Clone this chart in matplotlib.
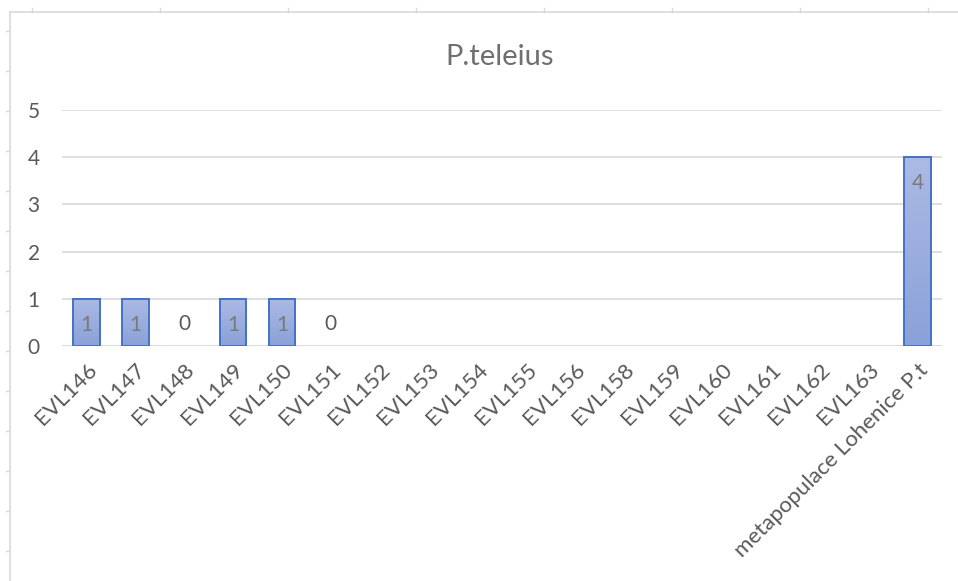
import numpy as np
import matplotlib.pyplot as plt
from matplotlib.lines import Line2D
from matplotlib.colors import LinearSegmentedColormap

categories = ['EVL146', 'EVL147', 'EVL148', 'EVL149', 'EVL150', 'EVL151', 'EVL152',
              'EVL153', 'EVL154', 'EVL155', 'EVL156', 'EVL158', 'EVL159', 'EVL160',
              'EVL161', 'EVL162', 'EVL163', 'metapopulace Lohenice P.t']
values = [1, 1, 0, 1, 1, 0, None, None, None, None, None, None, None, None,
          None, None, None, 4]
yticks = [0, 1, 2, 3, 4, 5]

plt.rcParams['font.family'] = ['Lato', 'DejaVu Sans']
txt_col = '#595959'

fig = plt.figure(figsize=(9.58, 5.81), dpi=100)
ax = fig.add_axes([62 / 958, 1 - 346 / 581, 880 / 958, 236 / 581])

# faint spreadsheet border around the chart
fig.add_artist(Line2D([10 / 958, 10 / 958], [0, 1 - 12 / 581], color='#d9d9d9', lw=1.2))
fig.add_artist(Line2D([10 / 958, 1], [1 - 12 / 581, 1 - 12 / 581], color='#d9d9d9', lw=1.2))
for yy in range(31, 581, 40):
    fig.add_artist(Line2D([6 / 958, 10 / 958], [1 - yy / 581] * 2, color='#d9d9d9', lw=1))
for xx in range(32, 958, 128):
    fig.add_artist(Line2D([xx / 958] * 2, [1 - 12 / 581, 1 - 8 / 581], color='#d9d9d9', lw=1))

x = np.arange(len(categories))
w = 0.54
grad = np.linspace(0, 1, 100).reshape(-1, 1)
cmap = LinearSegmentedColormap.from_list('g', ['#8aa1d9', '#abbae4'])
for xi, v in zip(x, values):
    if v is None:
        continue
    if v > 0:
        bar = ax.bar(xi, v, width=w, color='none', edgecolor='#4472c4', lw=1.4, zorder=3)[0]
        im = ax.imshow(grad, extent=(xi - w / 2, xi + w / 2, 0, v), aspect='auto',
                       cmap=cmap, origin='lower', zorder=2)
        im.set_clip_path(bar)
        ax.annotate(str(v), (xi, v), xytext=(0, -26), textcoords='offset pixels',
                    ha='center', va='center', fontsize=15, color='#7a7a7a', zorder=4)
    else:
        ax.annotate('0', (xi, 0), xytext=(0, 22), textcoords='offset pixels',
                    ha='center', va='center', fontsize=15, color=txt_col, zorder=4)

ax.set_xlim(-0.5, len(categories) - 0.5)
ax.set_ylim(0, 5)
ax.set_yticks(yticks)
ax.set_xticks(x)
ax.set_xticklabels(categories, rotation=45, ha='right', rotation_mode='anchor',
                   fontsize=16, color=txt_col)
ax.tick_params(axis='y', length=0, pad=16, labelsize=15, labelcolor=txt_col)
ax.tick_params(axis='x', length=0, pad=10)
ax.grid(axis='y', color='#d9d9d9', lw=1.2)
ax.set_axisbelow(True)
for s in ax.spines.values():
    s.set_visible(False)
ax.axhline(0, color='#d9d9d9', lw=1.2, zorder=1)

fig.text(500 / 958, 1 - 57 / 581, 'P.teleius', ha='center', va='center', fontsize=21, color='#6f6f6f')

fig.savefig('out.png', dpi=100)
